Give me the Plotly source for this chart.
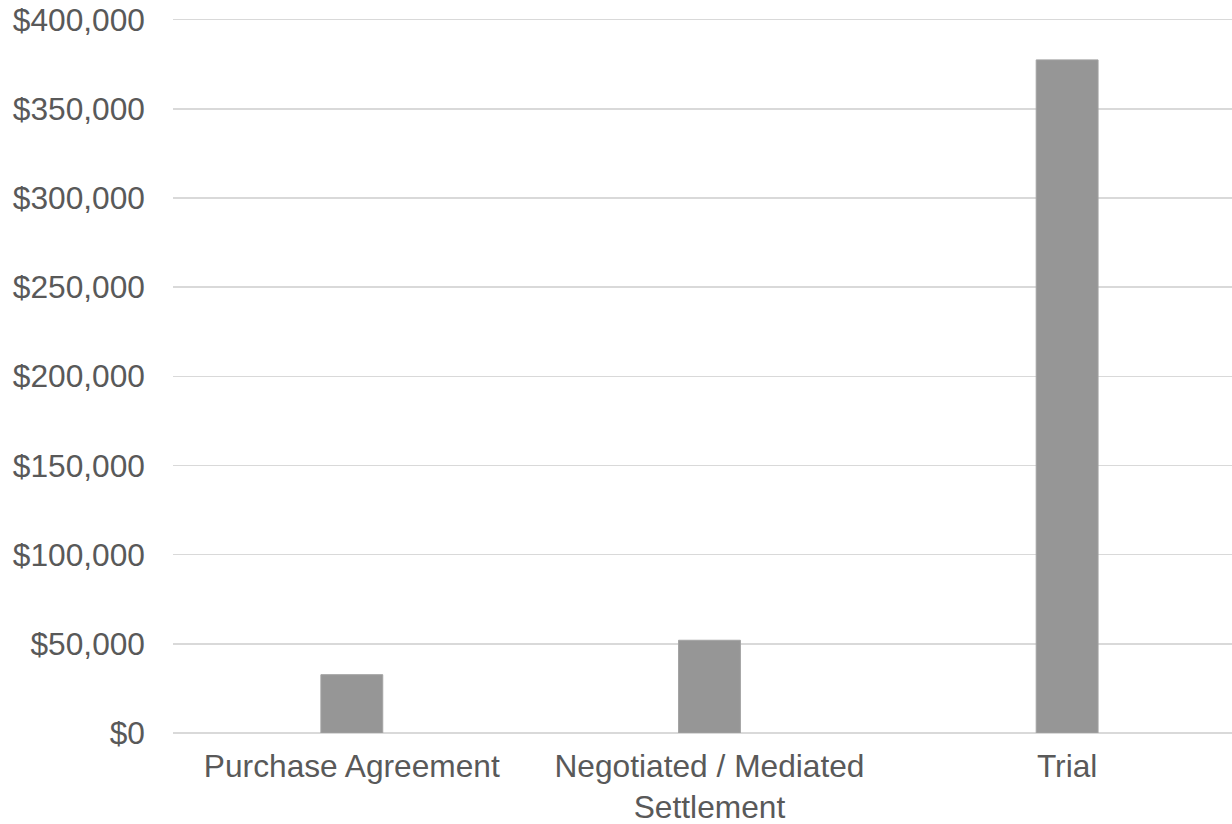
import plotly.graph_objects as go

categories = ["Purchase Agreement", "Negotiated / Mediated<br>Settlement", "Trial"]
values = [32700, 52000, 377400]
y_ticks = [0, 50000, 100000, 150000, 200000, 250000, 300000, 350000, 400000]
y_tick_labels = ["$0", "$50,000", "$100,000", "$150,000", "$200,000",
                 "$250,000", "$300,000", "$350,000", "$400,000"]

fig = go.Figure(
    go.Bar(
        x=categories,
        y=values,
        width=0.173,
        marker=dict(color="#969696", line=dict(color="#a3a3a3", width=1)),
        hoverinfo="skip",
    )
)

font_family = "Liberation Sans, Arial, sans-serif"
text_color = "#595959"

fig.update_layout(
    width=1232,
    height=824,
    margin=dict(l=173, r=0, t=16, b=91),
    paper_bgcolor="white",
    plot_bgcolor="white",
    showlegend=False,
    font=dict(family=font_family, size=31.7, color=text_color),
    xaxis=dict(
        type="category",
        range=[-0.5, 2.461],
        automargin=False,
        showgrid=False,
        showline=False,
        zeroline=False,
        ticks="",
        tickfont=dict(family=font_family, size=31.7, color=text_color),
        ticklabelstandoff=11,
    ),
    yaxis=dict(
        range=[0, 402000],
        automargin=False,
        tickvals=y_ticks,
        ticktext=y_tick_labels,
        showgrid=True,
        gridcolor="#d9d9d9",
        gridwidth=1.5,
        zeroline=True,
        zerolinecolor="#d9d9d9",
        zerolinewidth=1.5,
        showline=False,
        ticks="",
        tickfont=dict(family=font_family, size=31.7, color=text_color),
        ticklabelstandoff=27,
    ),
)

fig.write_html(
    "out.html",
    config={"displayModeBar": False, "staticPlot": True},
    post_script="document.body.style.margin='0';document.body.style.overflow='hidden';",
)
